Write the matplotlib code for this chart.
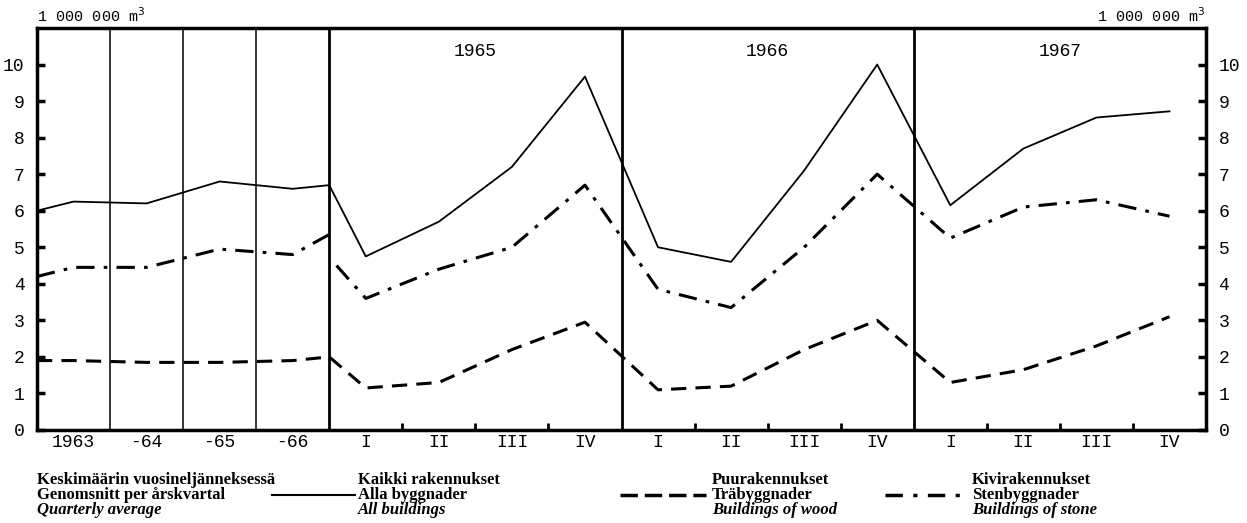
import matplotlib
matplotlib.use("Agg")
import matplotlib.pyplot as plt
from matplotlib.lines import Line2D

# ---- data (million m3) ----
year_labels = ["1963", "-64", "-65", "-66"]
quarter_labels = ["I", "II", "III", "IV"] * 3
section_years = ["1965", "1966", "1967"]

# left section: yearly quarterly averages (x positions in slot units)
avg_x = [0, 0.5, 1.5, 2.5, 3.5, 4.0]
avg_all = [6.0, 6.25, 6.2, 6.8, 6.6, 6.7]
avg_wood = [1.9, 1.9, 1.85, 1.85, 1.9, 2.0]
avg_stone = [4.2, 4.45, 4.45, 4.95, 4.8, 5.35]

# quarterly section
q_x = [4.5, 5.5, 6.5, 7.5, 8.5, 9.5, 10.5, 11.5, 12.5, 13.5, 14.5, 15.5]
q_all = [4.75, 5.7, 7.2, 9.67, 5.0, 4.6, 7.1, 10.0, 6.15, 7.7, 8.55, 8.72]
q_wood = [1.15, 1.3, 2.2, 2.95, 1.1, 1.2, 2.2, 3.0, 1.3, 1.65, 2.3, 3.1]
q_stone = [3.6, 4.4, 5.0, 6.7, 3.85, 3.35, 5.0, 7.0, 5.25, 6.1, 6.3, 5.85]
stone_start = 4.5  # value where the quarterly stone line starts at the boundary

mono = "Liberation Mono"
serif = "Liberation Serif"

fig = plt.figure(figsize=(12.47, 5.23), dpi=100)
ax = fig.add_axes([37/1247, 1-430/523, (1206-37)/1247, 402/523])
ax.set_xlim(0, 16)
ax.set_ylim(0, 11)

# solid: all buildings (continuous)
ax.plot(avg_x + q_x, avg_all + q_all, color="black", lw=1.3)
# dashed: wood
ax.plot(avg_x + q_x, avg_wood + q_wood, color="black", lw=2.2, dashes=(5, 3))
# dash-dot: stone (break at boundary)
ax.plot(avg_x, avg_stone, color="black", lw=2.2, dashes=(6, 3, 1.2, 3))
ax.plot([4.1] + q_x, [stone_start] + q_stone, color="black", lw=2.2, dashes=(6, 3, 1.2, 3))

# vertical separators
for xv in [1, 2, 3]:
    ax.axvline(xv, color="black", lw=1.1)
for xv in [4, 8, 12]:
    ax.axvline(xv, color="black", lw=2.0)

# spines
for s in ax.spines.values():
    s.set_linewidth(2.5)

# y ticks both sides, inward
ax.set_yticks(range(0, 11))
ax.tick_params(axis="y", direction="in", length=6, width=2.5, labelsize=13,
               left=True, right=True, labelleft=True, labelright=True, pad=9)
for lab in ax.get_yticklabels() + ax.yaxis.get_ticklabels(which="major"):
    lab.set_fontfamily(mono)
for t in ax.yaxis.get_major_ticks():
    t.label2.set_fontfamily(mono)

# bottom: small quarter ticks, labels via text
ax.set_xticks([5, 6, 7, 9, 10, 11, 13, 14, 15])
ax.tick_params(axis="x", direction="in", length=5, width=2, labelbottom=False)

for i, lab in enumerate(year_labels):
    ax.text(i + 0.5, -0.12, lab, ha="center", va="top", fontsize=13, family=mono)
for xq, lab in zip(q_x, quarter_labels):
    ax.text(xq, -0.12, lab, ha="center", va="top", fontsize=13, family=mono)
for i, lab in enumerate(section_years):
    ax.text(6 + 4 * i, 10.6, lab, ha="center", va="top", fontsize=13, family=mono)

# unit labels
fig.text(37/1247, 1-16/523, "1 000 000 m$^3$", ha="left", va="center", fontsize=11, family=mono)
fig.text(1206/1247, 1-16/523, "1 000 000 m$^3$", ha="right", va="center", fontsize=11, family=mono)

# legend block
def block(x, lines):
    ys = [480, 495, 510]
    styles = [("bold", "normal"), ("bold", "normal"), ("bold", "italic")]
    for (txt, y, (w, st)) in zip(lines, ys, styles):
        fig.text(x/1247, 1-y/523, txt, ha="left", va="center", fontsize=12,
                 family=serif, weight=w, style=st)

block(37, ["Keskimäärin vuosineljänneksessä", "Genomsnitt per årskvartal", "Quarterly average"])
block(358, ["Kaikki rakennukset", "Alla byggnader", "All buildings"])
block(712, ["Puurakennukset", "Träbyggnader", "Buildings of wood"])
block(972, ["Kivirakennukset", "Stenbyggnader", "Buildings of stone"])

ly = 1 - 495/523
fig.add_artist(Line2D([272/1247, 355/1247], [ly, ly], color="black", lw=1.5))
fig.add_artist(Line2D([620/1247, 706/1247], [ly, ly], color="black", lw=2.5, dashes=(5, 2)))
fig.add_artist(Line2D([885/1247, 967/1247], [ly, ly], color="black", lw=2.5, dashes=(5, 3, 1.2, 3)))

fig.savefig("out.png", dpi=100)
